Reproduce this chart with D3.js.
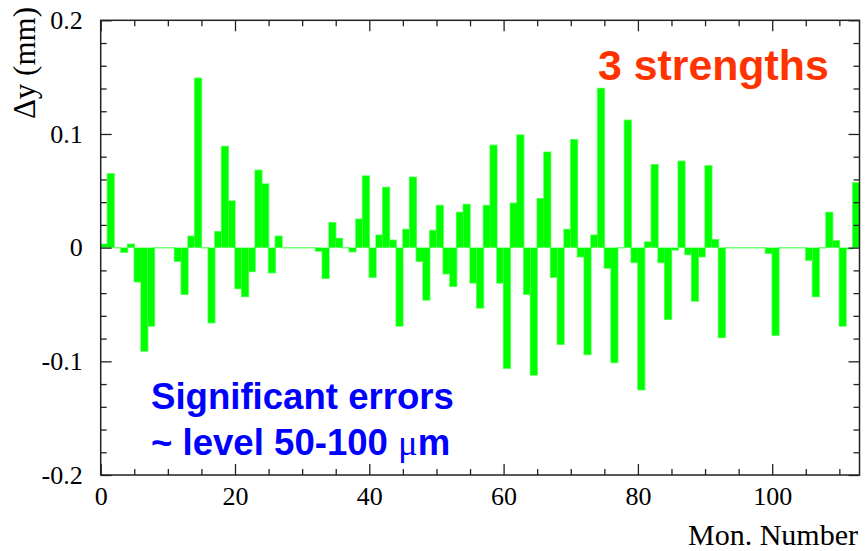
<!DOCTYPE html>
<html>
<head>
<meta charset="utf-8">
<script src="https://cdn.jsdelivr.net/npm/d3@7"></script>
<style>
  html, body { margin: 0; padding: 0; background: #fff; }
  svg { display: block; }
  .tick text { font-family: "Liberation Serif", "Times New Roman", serif; fill: #000; }
</style>
</head>
<body>
<svg id="chart" width="866" height="551"></svg>
<script>
// Vertical offset per monitor (mm), one bin per monitor number starting at 0
const deltaY = [
  0.003, 0.065, 0, -0.004, 0.003, -0.030, -0.091, -0.069, 0, 0,
  0, -0.012, -0.041, 0.010, 0.149, 0, -0.066, 0.014, 0.089, 0.041,
  -0.036, -0.043, -0.021, 0.068, 0.056, -0.022, 0.010, 0, 0, 0,
  0, 0, -0.003, -0.027, 0.022, 0.008, 0, -0.0035, 0.025, 0.063,
  -0.026, 0.011, 0.053, 0.0065, -0.069, 0.016, 0.062, -0.012, -0.046, 0.015,
  0.037, -0.023, -0.034, 0.031, 0.038, -0.031, -0.053, 0.037, 0.090, -0.031,
  -0.106, 0.039, 0.099, -0.041, -0.112, 0.043, 0.084, -0.026, -0.085, 0.016,
  0.095, -0.008, -0.094, 0.011, 0.140, -0.018, -0.101, 0, 0.112, -0.013,
  -0.125, 0.005, 0.073, -0.013, -0.063, -0.002, 0.076, -0.006, -0.047, -0.008,
  0.072, 0.007, -0.079, 0, 0, 0, 0, 0, 0, -0.005,
  -0.077, 0, 0, 0, 0, -0.011, -0.043, 0, 0.031, 0.006,
  -0.069, -0.001, 0.057
];

const xRange = [0, 113];
const yRange = [-0.2, 0.2];
const xMajorTicks = [0, 20, 40, 60, 80, 100];
const xMinorTicks = [5, 10, 15, 25, 30, 35, 45, 50, 55, 65, 70, 75, 85, 90, 95, 105, 110];
const yMajorTicks = [-0.2, -0.1, 0, 0.1, 0.2];
const yTickLabels = ["-0.2", "-0.1", "0", "0.1", "0.2"];
const yMinorTicks = [-0.18, -0.16, -0.14, -0.12, -0.08, -0.06, -0.04, -0.02,
                     0.02, 0.04, 0.06, 0.08, 0.12, 0.14, 0.16, 0.18];

const W = 866, H = 551;
const margin = { left: 100.7, right: 6.5, top: 20.3, bottom: 76 };
const svg = d3.select("#chart");

const x = d3.scaleLinear().domain(xRange).range([margin.left, W - margin.right]);
const y = d3.scaleLinear().domain(yRange).range([H - margin.bottom, margin.top]);

const green = "#00ff00";
const plot = svg.append("g");

// Bars from zero to each monitor's offset
plot.selectAll("rect.bar")
  .data(deltaY.map((v, i) => ({ i, v })))
  .join("rect")
  .attr("class", "bar")
  .attr("x", d => x(d.i))
  .attr("width", d => x(d.i + 1) - x(d.i))
  .attr("y", d => y(Math.max(0, d.v)))
  .attr("height", d => Math.abs(y(d.v) - y(0)))
  .attr("fill", green);

// Histogram outline (visible as a thin line on empty bins)
const outline = [];
deltaY.forEach((v, i) => { outline.push([i, v]); outline.push([i + 1, v]); });
plot.append("path")
  .attr("d", d3.line().x(d => x(d[0])).y(d => y(d[1]))(outline))
  .attr("fill", "none")
  .attr("stroke", green)
  .attr("stroke-opacity", 0.55)
  .attr("stroke-width", 1.5);

// Axes: ticks drawn inward on all four sides
const fontSize = 26;
function styleAxis(g) {
  g.select(".domain").remove();
  g.selectAll(".tick line").attr("stroke", "#222").attr("stroke-width", 1.3);
}

svg.append("g").attr("transform", `translate(0,${y(yRange[0])})`)
  .call(d3.axisBottom(x).tickValues(xMinorTicks).tickSize(-6).tickFormat(""))
  .call(styleAxis);
svg.append("g").attr("transform", `translate(0,${y(yRange[0])})`)
  .call(d3.axisBottom(x).tickValues(xMajorTicks).tickSize(-11).tickPadding(12).tickFormat(d3.format("d")))
  .call(styleAxis)
  .call(g => g.selectAll(".tick text").attr("font-size", fontSize));

svg.append("g").attr("transform", `translate(0,${y(yRange[1])})`)
  .call(d3.axisTop(x).tickValues(xMinorTicks).tickSize(-6).tickFormat(""))
  .call(styleAxis);
svg.append("g").attr("transform", `translate(0,${y(yRange[1])})`)
  .call(d3.axisTop(x).tickValues(xMajorTicks).tickSize(-11).tickFormat(""))
  .call(styleAxis);

svg.append("g").attr("transform", `translate(${x(xRange[0])},0)`)
  .call(d3.axisLeft(y).tickValues(yMinorTicks).tickSize(-6).tickFormat(""))
  .call(styleAxis);
svg.append("g").attr("transform", `translate(${x(xRange[0])},0)`)
  .call(d3.axisLeft(y).tickValues(yMajorTicks).tickSize(-11).tickPadding(18)
        .tickFormat((d, i) => yTickLabels[i]))
  .call(styleAxis)
  .call(g => g.selectAll(".tick text").attr("font-size", fontSize));

svg.append("g").attr("transform", `translate(${x(xRange[1])},0)`)
  .call(d3.axisRight(y).tickValues(yMinorTicks).tickSize(-6).tickFormat(""))
  .call(styleAxis);
svg.append("g").attr("transform", `translate(${x(xRange[1])},0)`)
  .call(d3.axisRight(y).tickValues(yMajorTicks).tickSize(-11).tickFormat(""))
  .call(styleAxis);

// Frame
svg.append("rect")
  .attr("x", x(xRange[0])).attr("y", y(yRange[1]))
  .attr("width", x(xRange[1]) - x(xRange[0]))
  .attr("height", y(yRange[0]) - y(yRange[1]))
  .attr("fill", "none").attr("stroke", "#222").attr("stroke-width", 1.5);

// Axis titles
svg.append("text")
  .attr("x", 858).attr("y", 545)
  .attr("text-anchor", "end")
  .attr("font-family", "Liberation Serif, Times New Roman, serif")
  .attr("font-size", 30)
  .text("Mon. Number");

svg.append("text")
  .attr("transform", "translate(35,7) rotate(-90)")
  .attr("text-anchor", "end")
  .attr("font-family", "Liberation Serif, Times New Roman, serif")
  .attr("font-size", 31)
  .text("\u0394y (mm)");

// Annotations
svg.append("text")
  .attr("x", 598).attr("y", 80)
  .attr("font-family", "Liberation Sans, Arial, sans-serif")
  .attr("font-weight", "bold")
  .attr("font-size", 42.8)
  .attr("fill", "#ff3300")
  .text("3 strengths");

const note = svg.append("text")
  .attr("font-family", "Liberation Sans, Arial, sans-serif")
  .attr("font-weight", "bold")
  .attr("font-size", 36.6)
  .attr("fill", "#0000ff");
note.append("tspan").attr("x", 151).attr("y", 409).text("Significant errors");
note.append("tspan").attr("x", 151).attr("y", 455).text("~ level 50-100 ");
note.append("tspan")
  .attr("font-family", "Liberation Serif, Times New Roman, serif")
  .attr("font-weight", "normal")
  .text("\u03bc");
note.append("tspan").text("m");
</script>
</body>
</html>
